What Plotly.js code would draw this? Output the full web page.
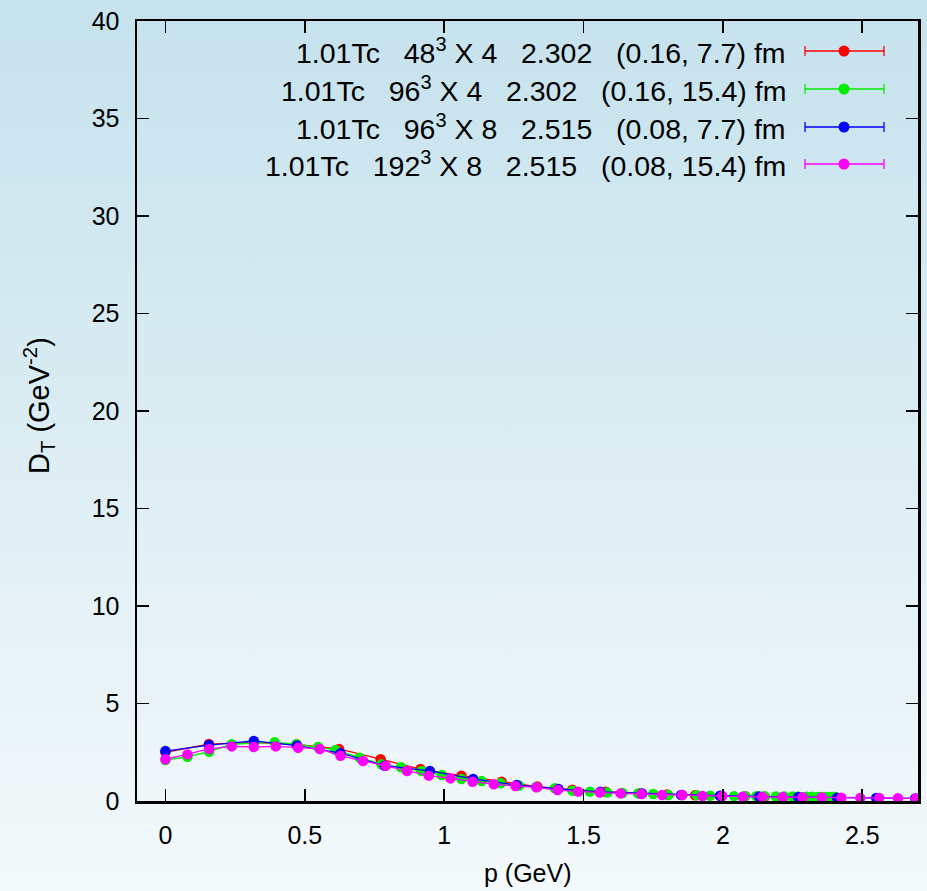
<!DOCTYPE html>
<html>
<head>
<meta charset="utf-8">
<script src="https://cdn.plot.ly/plotly-3.0.1.min.js"></script>
<style>
  html, body { margin: 0; padding: 0; }
  body { width: 927px; height: 891px; background: linear-gradient(to bottom, #c5e2ed 0%, #dcedf3 50%, #f4f9fb 100%); }
  #chart { width: 927px; height: 891px; }
</style>
</head>
<body>
<div id="chart"></div>
<script>
// Transverse gluon propagator D_T(p) at 1.01 Tc for four lattices
const p48x4   = [0, 0.156, 0.317, 0.47, 0.623, 0.772, 0.915, 1.062, 1.206, 1.334, 1.46, 1.58, 1.70, 1.80, 1.90, 1.99, 2.08, 2.15, 2.22, 2.27, 2.32, 2.35, 2.38, 2.395, 2.40];
const dT48x4  = [2.5, 2.92, 3.0, 2.9, 2.67, 2.14, 1.64, 1.30, 0.99, 0.74, 0.58, 0.47, 0.39, 0.33, 0.29, 0.26, 0.24, 0.22, 0.21, 0.20, 0.19, 0.19, 0.18, 0.18, 0.18];

const p96x4   = [0, 0.079, 0.157, 0.238, 0.317, 0.392, 0.47, 0.548, 0.61, 0.697, 0.775, 0.845, 0.919, 0.991, 1.062, 1.134, 1.203, 1.269, 1.33, 1.397, 1.461, 1.523, 1.585, 1.64, 1.696, 1.75, 1.804, 1.855, 1.906, 1.954, 1.995, 2.04, 2.08, 2.12, 2.15, 2.19, 2.22, 2.25, 2.27, 2.30, 2.32, 2.34, 2.35, 2.37, 2.38, 2.39, 2.395, 2.399, 2.40];
const dT96x4  = [2.1, 2.27, 2.53, 2.91, 2.97, 3.01, 2.91, 2.77, 2.62, 2.22, 1.88, 1.73, 1.54, 1.33, 1.13, 1.03, 0.91, 0.79, 0.72, 0.65, 0.53, 0.48, 0.43, 0.41, 0.39, 0.36, 0.31, 0.31, 0.30, 0.27, 0.26, 0.25, 0.25, 0.24, 0.24, 0.23, 0.23, 0.23, 0.22, 0.22, 0.22, 0.21, 0.21, 0.21, 0.21, 0.20, 0.20, 0.20, 0.20];

const p96x8   = [0, 0.156, 0.317, 0.472, 0.628, 0.787, 0.949, 1.104, 1.26, 1.41, 1.56, 1.71, 1.85, 1.99, 2.13, 2.27, 2.41, 2.55, 2.69];
const dT96x8  = [2.56, 2.87, 3.08, 2.84, 2.45, 1.81, 1.54, 1.13, 0.82, 0.62, 0.47, 0.39, 0.31, 0.27, 0.23, 0.20, 0.17, 0.15, 0.13];

const p192x8  = [0, 0.079, 0.157, 0.238, 0.317, 0.396, 0.476, 0.554, 0.628, 0.709, 0.790, 0.867, 0.945, 1.023, 1.102, 1.178, 1.256, 1.331, 1.407, 1.481, 1.559, 1.633, 1.708, 1.782, 1.854, 1.927, 1.998, 2.071, 2.142, 2.214, 2.286, 2.355, 2.425, 2.493, 2.561, 2.628, 2.693];
const dT192x8 = [2.14, 2.39, 2.67, 2.80, 2.77, 2.80, 2.73, 2.67, 2.32, 2.05, 1.81, 1.54, 1.30, 1.16, 0.99, 0.86, 0.77, 0.70, 0.56, 0.48, 0.43, 0.39, 0.36, 0.31, 0.31, 0.26, 0.26, 0.22, 0.21, 0.20, 0.19, 0.18, 0.17, 0.16, 0.15, 0.14, 0.13];

const seriesLabels = [
  '1.01Tc\u00a0\u00a0\u00a048<sup>3</sup> X 4\u00a0\u00a0\u00a02.302\u00a0\u00a0\u00a0(0.16, 7.7) fm',
  '1.01Tc\u00a0\u00a0\u00a096<sup>3</sup> X 4\u00a0\u00a0\u00a02.302\u00a0\u00a0\u00a0(0.16, 15.4) fm',
  '1.01Tc\u00a0\u00a0\u00a096<sup>3</sup> X 8\u00a0\u00a0\u00a02.515\u00a0\u00a0\u00a0(0.08, 7.7) fm',
  '1.01Tc\u00a0\u00a0\u00a0192<sup>3</sup> X 8\u00a0\u00a0\u00a02.515\u00a0\u00a0\u00a0(0.08, 15.4) fm'
];
const seriesColors = ['#ff0000', '#00ee00', '#0000ff', '#ff00ff'];
const xTicks = [0, 0.5, 1, 1.5, 2, 2.5];
const yTicks = [0, 5, 10, 15, 20, 25, 30, 35, 40];

const seriesX = [p48x4, p96x4, p96x8, p192x8];
const seriesY = [dT48x4, dT96x4, dT96x8, dT192x8];

const FONT = 'Liberation Sans, Arial, Helvetica, sans-serif';
const W = 927, H = 891;
const M = {l: 137, r: 9, t: 21, b: 90};
const PW = W - M.l - M.r, PH = H - M.t - M.b;
const px2x = px => (px - M.l) / PW;
const py2y = py => (H - M.b - py) / PH;

const traces = seriesX.map((xs, i) => ({
  x: xs, y: seriesY[i], type: 'scatter', mode: 'lines+markers',
  line: {color: seriesColors[i], width: 1.3},
  marker: {color: seriesColors[i], size: 10.5},
  cliponaxis: false, showlegend: false, hoverinfo: 'skip'
}));

// key block: text on the left, error-bar style sample on the right
const annotations = [];
const shapes = [];
const rowY = [51, 89, 127, 164];
seriesLabels.forEach((lab, i) => {
  const yy = py2y(rowY[i]);
  annotations.push({
    xref: 'paper', yref: 'paper', x: px2x(788), y: yy,
    xanchor: 'right', yanchor: 'middle', showarrow: false, text: lab,
    font: {family: FONT, size: 28.5, color: '#000'}
  });
  const c = seriesColors[i];
  shapes.push({type: 'line', xref: 'paper', yref: 'paper', x0: px2x(805), x1: px2x(884), y0: yy, y1: yy, line: {color: c, width: 1.3}});
  shapes.push({type: 'line', xref: 'paper', yref: 'paper', x0: px2x(805), x1: px2x(805), y0: yy - 5 / PH, y1: yy + 5 / PH, line: {color: c, width: 1.3}});
  shapes.push({type: 'line', xref: 'paper', yref: 'paper', x0: px2x(884), x1: px2x(884), y0: yy - 5 / PH, y1: yy + 5 / PH, line: {color: c, width: 1.3}});
  shapes.push({type: 'circle', xref: 'paper', yref: 'paper', x0: px2x(838.5), x1: px2x(849.5), y0: yy - 5.5 / PH, y1: yy + 5.5 / PH, line: {width: 0}, fillcolor: c});
});

annotations.push({
  xref: 'paper', yref: 'paper', x: px2x(39), y: py2y(406), textangle: -90,
  xanchor: 'center', yanchor: 'middle', showarrow: false,
  text: 'D<sub>T</sub> (GeV<sup>-2</sup>)', font: {family: FONT, size: 29, color: '#000'}
});
annotations.push({
  xref: 'paper', yref: 'paper', x: px2x(528), y: py2y(873),
  xanchor: 'center', yanchor: 'middle', showarrow: false,
  text: 'p (GeV)', font: {family: FONT, size: 25, color: '#000'}
});

const axisCommon = {
  showline: true, linecolor: '#000', linewidth: 2.5, mirror: 'ticks',
  ticks: 'inside', ticklen: 12, tickwidth: 1.8, tickcolor: '#000',
  showgrid: false, zeroline: false,
  tickfont: {family: FONT, size: 25, color: '#000'}
};

const layout = {
  width: W, height: H, margin: M,
  paper_bgcolor: 'rgba(0,0,0,0)', plot_bgcolor: 'rgba(0,0,0,0)',
  xaxis: Object.assign({}, axisCommon, {range: [-0.102, 2.7], tickvals: xTicks, ticktext: xTicks.map(String), ticklabelstandoff: 10}),
  yaxis: Object.assign({}, axisCommon, {range: [0, 40], tickvals: yTicks, ticktext: yTicks.map(String), ticklabelstandoff: 10}),
  annotations: annotations, shapes: shapes, showlegend: false
};

Plotly.newPlot('chart', traces, layout, {displayModeBar: false, staticPlot: true});
</script>
</body>
</html>
